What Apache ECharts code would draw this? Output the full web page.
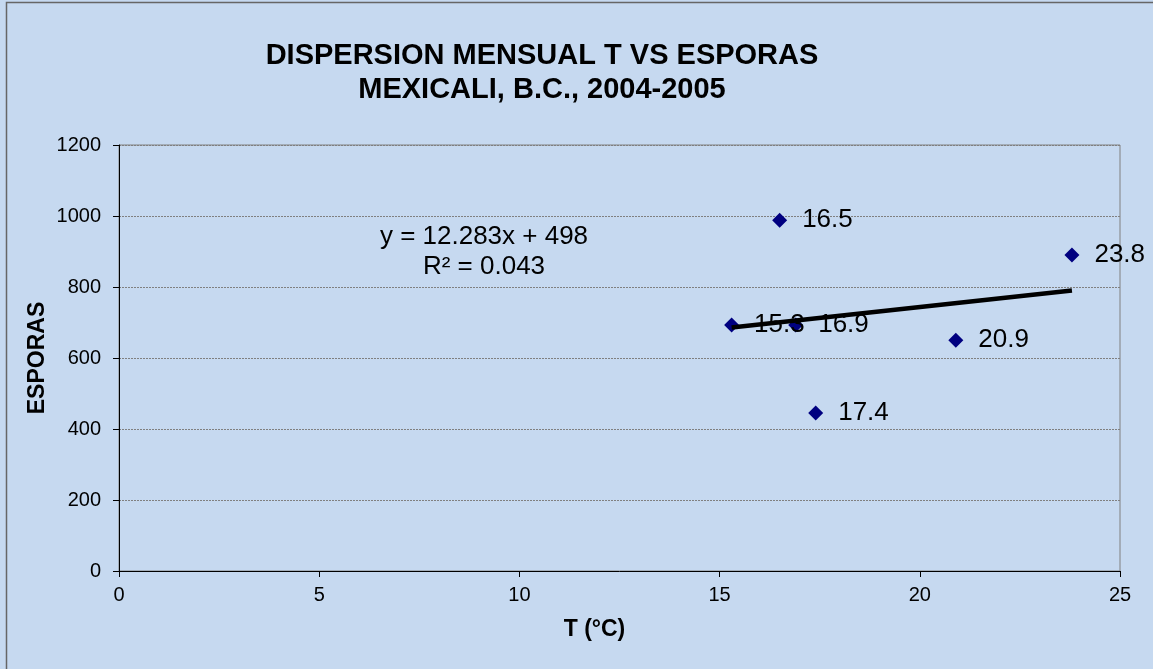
<!DOCTYPE html>
<html>
<head>
<meta charset="utf-8">
<script src="https://cdn.jsdelivr.net/npm/echarts@6/dist/echarts.min.js"></script>
<style>
  html, body { margin: 0; padding: 0; background: #c6d9f0; }
  #chart { width: 1153px; height: 669px; }
</style>
</head>
<body>
<div id="chart"></div>
<script>
var myChart = echarts.init(document.getElementById('chart'));

// temperatura mensual (°C) y esporas
var temps = [15.3, 16.5, 16.9, 17.4, 20.9, 23.8];
var esporas = [693, 988, 693, 445, 650, 890];

// linea de tendencia (del grafico)
var slope = 12.283;
var intercept = 498;
var ecuacion = ['y = 12.283x + 498', 'R² = 0.043'];

var xTicks = [0, 25, 5];      // min, max, interval
var yTicks = [0, 1200, 200];

var points = [];
for (var i = 0; i < temps.length; i++) {
    points.push([temps[i], esporas[i]]);
}
var xMin = Math.min.apply(null, temps);
var xMax = Math.max.apply(null, temps);
var trend = [
    [xMin, slope * xMin + intercept],
    [xMax, slope * xMax + intercept]
];

var fuente = 'Liberation Sans, Arial';

var option = {
    backgroundColor: '#c6d9f0',
    animation: false,
    title: {
        text: 'DISPERSION MENSUAL T VS ESPORAS\nMEXICALI, B.C., 2004-2005',
        left: 537,
        top: 34,
        textAlign: 'center',
        textStyle: {
            fontFamily: fuente,
            fontWeight: 'bold',
            fontSize: 29,
            lineHeight: 34,
            color: '#000'
        }
    },
    grid: {
        left: 119,
        right: 33,
        top: 145,
        bottom: 98,
        show: true,
        borderColor: '#808080',
        borderWidth: 1
    },
    xAxis: {
        type: 'value',
        min: xTicks[0],
        max: xTicks[1],
        interval: xTicks[2],
        name: 'T (°C)',
        nameLocation: 'middle',
        nameGap: 47,
        nameMoveOverlap: false,
        nameTextStyle: {
            fontFamily: fuente, fontWeight: 'bold', fontSize: 23, color: '#000',
            padding: [0, 50, 0, 0]
        },
        axisLine: { lineStyle: { color: '#000', width: 1 } },
        axisTick: { show: true, length: 6, lineStyle: { color: '#000' } },
        axisLabel: { fontFamily: fuente, fontSize: 20, color: '#000', margin: 14 },
        splitLine: { show: false }
    },
    yAxis: {
        type: 'value',
        min: yTicks[0],
        max: yTicks[1],
        interval: yTicks[2],
        name: 'ESPORAS',
        nameLocation: 'middle',
        nameGap: 70,
        nameMoveOverlap: false,
        nameTextStyle: { fontFamily: fuente, fontWeight: 'bold', fontSize: 23, color: '#000' },
        axisLine: { show: true, lineStyle: { color: '#000', width: 1 } },
        axisTick: { show: true, length: 6, lineStyle: { color: '#000' } },
        axisLabel: {
            fontFamily: fuente, fontSize: 20, color: '#000', margin: 18,
            formatter: function (v) { return String(v); }
        },
        splitLine: { show: true, lineStyle: { color: '#808080', type: [2, 1], width: 1 } }
    },
    graphic: [
        {
            type: 'rect',
            shape: { x: 6.5, y: 2.5, width: 1160, height: 680 },
            style: { fill: 'none', stroke: '#666', lineWidth: 1.5 },
            silent: true
        },
        {
            type: 'text',
            style: {
                text: ecuacion.join('\n'),
                x: 484,
                y: 222,
                textAlign: 'center',
                fontFamily: fuente,
                fontSize: 26,
                lineHeight: 30,
                fill: '#000'
            }
        }
    ],
    series: [
        {
            type: 'scatter',
            data: points,
            symbol: 'diamond',
            symbolSize: 15,
            itemStyle: { color: '#000080', opacity: 1 },
            label: {
                show: true,
                position: 'right',
                distance: 15,
                formatter: function (p) { return p.value[0]; },
                fontFamily: fuente,
                fontSize: 26,
                color: '#000'
            },
            z: 3
        },
        {
            type: 'line',
            data: trend,
            symbol: 'none',
            lineStyle: { color: '#000', width: 4.5 },
            z: 4
        }
    ]
};
myChart.setOption(option);
</script>
</body>
</html>
